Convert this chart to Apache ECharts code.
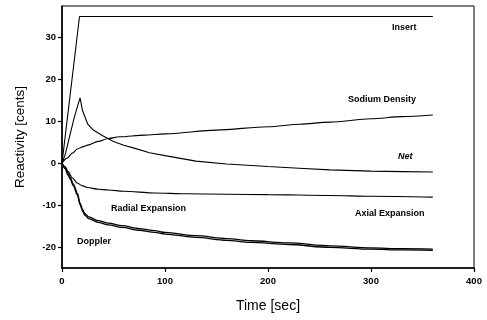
<!DOCTYPE html>
<html><head><meta charset="utf-8">
<script src="https://cdn.jsdelivr.net/npm/echarts@6/dist/echarts.min.js"></script>
<style>html,body{margin:0;padding:0;background:#fff}#c{width:487px;height:320px}</style>
</head><body><div id="c"></div>
<script>
// ---- data (time in sec, reactivity in cents) ----
const insertT = [0, 17, 360];
const insertV = [0, 35, 35];

const netT = [0, 3, 8, 12, 17.5, 20, 25, 30, 40, 50, 60, 70, 85, 100, 130, 160, 200, 230, 260, 300, 330, 360];
const netV = [0, 2, 7, 11, 15.6, 12.5, 9.3, 8.0, 6.5, 5.2, 4.3, 3.6, 2.5, 1.8, 0.5, -0.2, -0.8, -1.2, -1.6, -1.9, -2.0, -2.1];

const sodiumT = [0, 5, 10, 15, 20, 25, 35, 45, 56, 80, 100, 150, 200, 231, 260, 300, 330, 360];
const sodiumV = [0, 1.2, 2.4, 3.4, 3.9, 4.3, 5.2, 5.9, 6.3, 6.7, 7.0, 7.9, 8.7, 9.3, 9.8, 10.6, 11.1, 11.5];

const axialT = [0, 3, 6, 10, 15, 20, 25, 35, 45, 60, 90, 120, 160, 200, 260, 300, 360];
const axialV = [0, -0.8, -2.0, -3.5, -4.8, -5.4, -5.8, -6.2, -6.4, -6.7, -7.1, -7.3, -7.4, -7.5, -7.7, -7.9, -8.1];

const dopplerT = [0, 3, 6, 8, 11, 15, 17.5, 20, 22, 26, 35, 45, 58, 75, 90, 100, 130, 160, 183, 220, 260, 300, 330, 360];
const dopplerV = [0, -1.0, -2.5, -3.4, -5.0, -7.2, -9.5, -11.0, -12.0, -12.8, -13.7, -14.3, -14.9, -15.6, -16.1, -16.5, -17.3, -18.0, -18.5, -19.0, -19.7, -20.2, -20.4, -20.5];
const radialV  = [0, -1.3, -2.9, -3.8, -5.4, -7.6, -9.9, -11.4, -12.4, -13.2, -14.1, -14.7, -15.3, -16.0, -16.5, -16.9, -17.7, -18.4, -18.9, -19.4, -20.1, -20.5, -20.7, -20.8];

const xTicks = [0, 100, 200, 300, 400];
const yTicks = [-20, -10, 0, 10, 20, 30];

function pairs(t, v) { return t.map((x, i) => [x, v[i]]); }

const chart = echarts.init(document.getElementById('c'), null, {renderer: 'canvas'});
const font = '"Liberation Sans", Arial, sans-serif';
const lineS = (name, t, v, w, smooth) => ({
  name, type: 'line', data: pairs(t, v), showSymbol: false,
  smooth: smooth, smoothMonotone: 'x',
  lineStyle: {color: '#000', width: w}, animation: false
});
const lab = (text, x, y, extra) => Object.assign({
  type: 'text', left: x, top: y,
  style: {text, font: 'bold 9px ' + font, fill: '#000'}
}, extra || {});

chart.setOption({
  animation: false,
  backgroundColor: '#fff',
  grid: {left: 62, right: 13, top: 6, bottom: 52, show: true, borderColor: '#000', borderWidth: 1},
  xAxis: {
    type: 'value', min: 0, max: 400,
    name: 'Time [sec]', nameLocation: 'middle', nameGap: 31,
    nameTextStyle: {fontFamily: font, fontSize: 14, color: '#000'},
    axisLine: {onZero: false, lineStyle: {color: '#000', width: 1.6}},
    axisTick: {customValues: xTicks, length: 4, lineStyle: {color: '#000', width: 1.2}},
    axisLabel: {customValues: xTicks, fontFamily: font, fontSize: 9.5, fontWeight: 'bold', color: '#000', margin: 8},
    splitLine: {show: false}
  },
  yAxis: {
    type: 'value', min: -25, max: 37.5,
    name: 'Reactivity [cents]', nameLocation: 'middle', nameGap: 35,
    nameTextStyle: {fontFamily: font, fontSize: 13.5, color: '#000'},
    axisLine: {show: true, onZero: false, lineStyle: {color: '#000', width: 1.6}},
    axisTick: {show: true, customValues: yTicks, length: 4, lineStyle: {color: '#000', width: 1.2}},
    axisLabel: {customValues: yTicks, fontFamily: font, fontSize: 9.5, fontWeight: 'bold', color: '#000', margin: 6},
    splitLine: {show: false}
  },
  series: [
    lineS('Insert', insertT, insertV, 1.1, false),
    lineS('Net', netT, netV, 1.1, false),
    lineS('Sodium Density', sodiumT, sodiumV, 1.1, 0.3),
    lineS('Axial Expansion', axialT, axialV, 1.1, 0.3),
    lineS('Doppler', dopplerT, dopplerV, 1.3, 0.3),
    lineS('Radial Expansion', dopplerT, radialV, 1.3, 0.3)
  ],
  graphic: [
    lab('Insert', 392, 23),
    lab('Sodium Density', 348, 95),
    lab('Net', 398, 152, {style: {text: 'Net', font: 'italic bold 9px ' + font, fill: '#000'}}),
    lab('Radial Expansion', 111, 204),
    lab('Axial Expansion', 355, 209),
    lab('Doppler', 77, 237)
  ]
});
</script></body></html>
